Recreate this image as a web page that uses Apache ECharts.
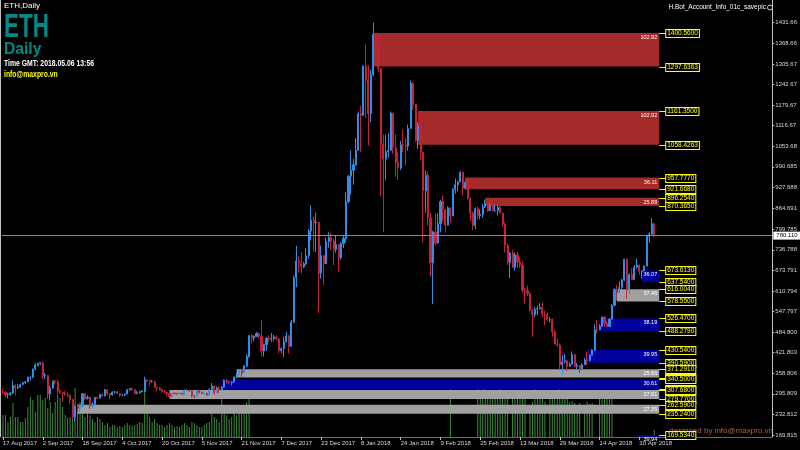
<!DOCTYPE html>
<html><head><meta charset="utf-8">
<script src="https://cdn.jsdelivr.net/npm/echarts@6/dist/echarts.min.js"></script>
<style>html,body{margin:0;padding:0;background:#000;}#c{width:800px;height:450px;}</style>
</head><body><div id="c"></div>
<script>
// ---------- DATA ----------
const firstDay = [2017, 7, 17];      // 17 Aug 2017 (month 0-based)
const totalSlots = 310;              // bar slots on the time axis (incl. empty future space)
const lastBarIndex = 262;            // 6 May 2018

// daily candles: [open, close, low, high]
const candles = [
[302,301,294,312],[301,293,285,303],[293,294,282,299],[294,298,290,302],[298,321,296,337],[321,314,291,325],[314,317,310,326],[317,325,314,327],
[325,330,322,333],[330,333,326,335],[333,347,331,348],[347,347,337,349],[347,372,344,373],[372,383,368,390],[383,388,380,392],[388,391,384,393],
[391,351,340,395],[351,352,342,360],[352,295,280,352],[295,313,275,321],[313,335,313,336],[335,333,325,338],[333,305,295,340],[305,300,296,310],
[300,297,270,300],[297,293,290,305],[293,292,285,300],[292,278,265,293],[278,226,218,281],[226,258,212,260],[258,252,240,266],[252,257,241,261],
[257,296,257,298],[296,282,277,297],[282,285,278,291],[285,259,250,286],[259,263,253,271],[263,285,258,286],[285,282,280,287],[282,294,282,296],
[294,289,287,296],[289,308,288,311],[308,297,291,309],[297,292,279,298],[292,301,291,304],
[301,302,296,304],[302,297,295,304],[297,292,286,298],[292,292,289,295],[292,295,288,297],[295,308,295,311],[308,311,306,314],[311,309,306,315],
[309,297,293,309],[297,299,295,305],[299,303,296,305],[303,303,300,308],[303,338,300,348],[338,337,330,342],[337,334,320,339],[334,334,330,338],
[334,316,313,335],[316,313,304,317],[313,308,305,317],[308,303,300,310],[303,300,297,308],[300,296,288,302],[296,286,282,297],[286,298,285,300],
[298,297,293,300],[297,296,294,299],[296,297,295,301],[297,294,293,300],[294,306,293,309],[306,306,302,309],[306,305,302,308],
[305,290,285,305],[290,288,282,292],[288,306,285,308],[306,300,297,308],[300,297,294,304],[297,297,293,304],[297,292,290,300],[292,309,290,313],
[309,320,308,329],[320,299,293,321],[299,314,298,319],[314,307,298,319],[307,316,307,320],[316,337,315,340],[337,333,327,340],[333,330,325,336],
[330,332,322,335],[332,347,330,349],[347,354,345,360],[354,367,353,371],[367,360,348,372],[360,381,360,384],[381,410,378,417],[410,474,406,475],
[474,466,450,479],[466,471,456,475],[471,480,470,485],[480,472,465,484],[472,427,410,522],[427,447,410,449],
[447,466,428,470],[466,463,455,475],[463,465,455,482],[465,470,457,476],[470,464,460,474],[464,428,420,466],[428,434,420,439],[434,456,408,471],
[456,473,452,485],[473,441,420,476],[441,515,441,522],[515,651,512,657],[651,702,622,749],[702,696,667,717],[696,684,665,730],[684,694,681,700],
[694,719,690,742],[719,794,709,800],[794,827,765,873],[827,819,732,838],[819,821,730,850],[821,665,543,821],[665,719,648,750],[719,694,629,720],
[694,762,694,774],[762,774,743,790],[774,763,735,787],[763,737,690,770],[737,753,728,781],[753,712,670,755],[712,756,707,760],
[756,772,742,782],[772,884,759,914],[884,962,878,965],[962,980,906,1041],[980,997,936,1015],[997,1041,994,1078],[1041,1153,1040,1160],[1153,1148,1037,1177],
[1148,1299,1148,1300],[1299,1255,1140,1365],[1255,1154,1056,1301],[1154,1273,1127,1287],[1273,1396,1268,1432],[1396,1366,1311,1400],[1366,1292,1280,1390],[1292,1061,900,1292],
[1061,1014,790,1090],[1014,1037,950,1090],[1037,1041,1019,1093],[1041,1155,1041,1160],[1155,1050,1030,1155],[1050,1004,960,1090],[1004,987,950,1035],[987,1058,980,1070],
[1058,1057,1035,1105],[1057,1054,995,1080],[1054,1108,1040,1120],[1108,1246,1108,1255],[1246,1182,1165,1250],[1182,1071,1067,1183],[1071,1118,1045,1128],
[1118,1036,1010,1160],[1036,917,760,1036],[917,965,850,980],[965,834,810,976],[834,697,655,850],[697,791,570,795],[791,757,750,850],[757,817,757,848],
[817,884,790,890],[884,861,823,903],[861,812,790,861],[812,865,812,870],[865,840,820,866],[840,921,840,925],[921,936,908,955],[936,944,915,948],
[944,974,944,978],[974,925,903,975],[925,943,920,948],[943,895,890,957],[895,849,825,897],[849,811,797,855],[811,863,800,866],[863,841,830,870],
[841,845,830,860],[845,868,835,877],[868,878,865,890],[878,856,853,885],
[856,872,855,880],[872,857,855,879],[857,857,852,875],[857,866,842,871],[866,849,849,873],[849,815,807,850],[815,751,728,820],[751,698,690,755],
[698,727,650,730],[727,683,681,737],[683,721,673,728],[721,699,681,730],[699,690,681,714],[690,613,605,700],[613,611,572,620],[611,603,595,627],
[603,552,548,606],[552,538,470,557],[538,555,530,562],[555,557,536,566],[557,560,553,574],[560,540,532,575],[540,538,505,550],[538,523,519,545],
[523,523,514,531],[523,486,470,527],[486,448,448,493],[448,445,440,465],[445,385,370,450],[385,394,355,414],[394,397,388,418],
[397,379,365,400],[379,386,378,392],[386,416,386,426],[416,380,376,419],[380,383,372,390],[383,370,360,383],[370,385,369,390],[385,400,385,406],
[400,398,384,425],[398,414,395,416],[414,430,413,432],[430,493,427,508],[493,492,480,522],[492,502,491,509],[502,531,502,532],[531,511,501,533],
[511,502,500,518],[502,524,502,528],[524,567,524,570],[567,615,563,619],[615,606,582,630],[606,621,605,640],[621,644,613,648],[644,708,641,709],
[708,615,587,710],[615,661,601,665],[661,645,644,680],[645,684,645,690],[684,689,679,710],[689,670,660,692],
[670,672,648,674],[672,687,672,688],[687,778,686,783],[778,785,758,790],[785,816,783,834],[816,780,775,820]
];

// tick volume (thousands)
const volumes = [
22,22,15,20,34,20,20,15,15,19,30,40,37,25,42,42,
37,39,29,35,24,35,42,39,30,22,19,20,30,49,25,35,
30,20,25,22,18,15,20,18,15,12,14,10,12,12,10,11,
10,12,14,12,11,12,13,15,14,60,25,20,15,18,14,12,
12,10,12,14,12,10,11,10,12,14,12,10,15,14,12,10,
10,12,14,15,25,20,18,15,40,30,22,18,20,25,22,26,
24,28,35,40,
0,0,0,0,0,0,0,0,0,0,0,0,0,0,0,0,0,0,0,0,
0,0,0,0,0,0,0,0,0,0,0,0,0,0,0,0,0,0,0,0,
0,0,0,0,0,0,0,0,0,0,0,0,0,0,0,0,0,0,0,0,
0,0,0,0,0,0,0,0,0,0,0,0,0,0,0,0,0,0,0,0,
54,
0,0,0,0,0,0,0,0,0,0,
49,47,52,50,47,47,44,45,47,49,44,47,40,0,42,40,42,38,42,40,
0,30,35,52,45,42,40,35,0,38,40,38,47,49,45,42,38,35,36,34,
30,34,0,30,35,33,34,0,0,38,40,41,40,40,38,
0,0,0,0,0,0,0,0,0,0,0,0,0,0,0,0,
7
];

// right price scale tick labels
const yTickLabels = ['1431.66','1368.66','1305.67','1242.67','1179.67','1116.67','1053.68','990.685','927.688','864.691',
  '799.785','736.788','673.791','610.794','547.797','484.800','421.803','358.806','295.809','232.812','169.815'];

// supply / demand zones
const zoneStart  = [149, 167, 186, 194, 257, 247, 240, 235, 94, 88, 67, 30, 255];
const zoneEnd    = 264;
const zoneTop    = [1400.56, 1161.35, 957.777, 896.254, 673.613, 616.004, 526.47, 430.54, 371.291, 340.5, 307.68, 262.59, 169.534];
const zoneBottom = [1297.6363, 1058.4263, 921.668, 870.365, 637.54, 578.55, 488.279, 390.59, 345.631, 309.89, 279.77, 235.24, 129.594];
const zoneSize   = ['102.92','102.92','36.11','25.89','36.07','37.46','38.19','39.95','25.66','30.61','27.91','27.35','39.94'];
const zoneKind   = ['supply','supply','supply','supply','demand','tested','demand','demand','tested','demand','tested','tested','demand'];

const currentPrice = 780.110;

// ---------- BUILD ----------
const monthNames = ['Jan','Feb','Mar','Apr','May','Jun','Jul','Aug','Sep','Oct','Nov','Dec'];
const categories = [];
for (let i = 0; i < totalSlots; i++) {
  const d = new Date(Date.UTC(firstDay[0], firstDay[1], firstDay[2] + i));
  categories.push(d.getUTCDate() + ' ' + monthNames[d.getUTCMonth()] + ' ' + d.getUTCFullYear());
}
const yTickValues = yTickLabels.map(Number);
const zoneColors = { supply: '#a52a2a', demand: '#00009c', tested: '#a0a0a0' };
const zoneData = zoneStart.map((s, i) => [s, zoneEnd, zoneTop[i], zoneBottom[i], i]);

function renderZone(params, api) {
  const s = api.value(0), e = api.value(1), top = api.value(2), bot = api.value(3), k = api.value(4);
  const p1 = api.coord([s, top]);
  const p2 = api.coord([e, bot]);
  const cs = params.coordSys;
  const gBottom = cs.y + cs.height;
  const yb = Math.min(p2[1], gBottom);
  const children = [];
  children.push({ type: 'rect', shape: { x: p1[0], y: p1[1], width: p2[0] - p1[0], height: yb - p1[1] },
    style: { fill: zoneColors[zoneKind[k]] } });
  children.push({ type: 'text', style: { text: zoneSize[k], x: p2[0] - 2, y: p1[1] + 1.5, align: 'right',
    verticalAlign: 'top', fill: '#ffffff', font: '5.5px "Liberation Sans"' } });
  [[top, p1[1]], [bot, p2[1]]].forEach(function (pair) {
    const v = pair[0], y = Math.round(pair[1]) + 0.5;
    if (y > gBottom) return;
    children.push({ type: 'line', shape: { x1: p2[0], y1: y, x2: p2[0] + 7, y2: y },
      style: { stroke: '#ffff00', lineWidth: 1 } });
    children.push({ type: 'text', style: { text: v.toFixed(4), x: p2[0] + 7, y: y, align: 'left', verticalAlign: 'middle',
      fill: '#ffff00', font: '6.5px "Liberation Sans"', backgroundColor: '#000000', borderColor: '#ffff00',
      borderWidth: 1, padding: [0, 1, 0, 1] } });
  });
  return { type: 'group', children: children };
}

const showIdx = (i) => i % 16 === 0 && i <= lastBarIndex;

const chart = echarts.init(document.getElementById('c'), null, { renderer: 'canvas' });
chart.setOption({
  backgroundColor: '#000000',
  animation: false,
  grid: { left: 1, right: 24, top: 0, bottom: 13 },
  xAxis: {
    type: 'category', data: categories, boundaryGap: true,
    axisLine: { show: true, lineStyle: { color: '#3a6fd8', width: 1 } },
    axisTick: { show: true, interval: showIdx, alignWithLabel: true, length: 3, lineStyle: { color: '#c0c0c0' } },
    axisLabel: { interval: showIdx, color: '#d8d8d8', fontSize: 6, fontFamily: 'Liberation Sans', align: 'left', margin: 3 },
    splitLine: { show: false }
  },
  yAxis: [{
    type: 'value', position: 'right', min: 163.7, max: 1501.2,
    axisLine: { show: true, lineStyle: { color: '#c0c0c0' } },
    axisTick: { show: true, length: 2, customValues: yTickValues, lineStyle: { color: '#c0c0c0' } },
    axisLabel: { customValues: yTickValues, color: '#d8d8d8', fontSize: 6, fontFamily: 'Liberation Sans', margin: 3,
      formatter: function (v) { const i = yTickValues.findIndex(t => Math.abs(t - v) < 1e-6); return i >= 0 ? yTickLabels[i] : ''; } },
    splitLine: { show: false }
  }, {
    type: 'value', min: 0, max: 437, show: false
  }],
  series: [
    { type: 'bar', yAxisIndex: 1, data: volumes, barWidth: 1, itemStyle: { color: '#3d8b3d' }, z: 1, silent: true },
    { type: 'custom', renderItem: renderZone, data: zoneData, z: 2, silent: true, clip: false },
    { type: 'candlestick', data: candles, barWidth: 1.6, z: 3, silent: true,
      itemStyle: { color: '#2f8fe6', color0: '#c8203a', borderColor: '#2f8fe6', borderColor0: '#c8203a', borderWidth: 1 },
      markLine: { silent: true, symbol: 'none', data: [{ yAxis: currentPrice }],
        lineStyle: { color: '#8a8a8a', width: 1, type: 'solid' },
        label: { show: true, position: 'end', distance: 1, formatter: currentPrice.toFixed(3), color: '#000', backgroundColor: '#ffffff',
          fontSize: 6, fontFamily: 'Liberation Sans', padding: [1, 3, 1, 3] } } }
  ],
  graphic: [
    { type: 'line', shape: { x1: 0.5, y1: 0, x2: 0.5, y2: 437 }, style: { stroke: '#c0c0c0', lineWidth: 1 }, silent: true },
    { type: 'text', x: 4, y: 2, style: { text: 'ETH,Daily', fill: '#ffffff', font: '8px "Liberation Sans"', verticalAlign: 'top' } },
    { type: 'text', x: 4, y: 11, scaleX: 0.68, style: { text: 'ETH', fill: '#008b8b', font: 'bold 33px "Liberation Sans"', verticalAlign: 'top' } },
    { type: 'text', x: 4, y: 41, scaleX: 0.92, style: { text: 'Daily', fill: '#008b8b', font: 'bold 17px "Liberation Sans"', verticalAlign: 'top' } },
    { type: 'text', x: 4, y: 59, scaleX: 0.76, style: { text: 'Time GMT: 2018.05.06 13:56', fill: '#ffffff', font: 'bold 9px "Liberation Sans"', verticalAlign: 'top' } },
    { type: 'text', x: 4, y: 70, scaleX: 0.76, style: { text: 'info@maxpro.vn', fill: '#ffff00', font: 'bold 9px "Liberation Sans"', verticalAlign: 'top' } },
    { type: 'text', x: 766, y: 4, style: { text: 'H.Bot_Account_Info_01c_savepic', fill: '#ffffff', font: '6.5px "Liberation Sans"', align: 'right', verticalAlign: 'top' } },
    { type: 'circle', shape: { cx: 770, cy: 7.5, r: 2.5 }, style: { fill: 'none', stroke: '#ffffff', lineWidth: 0.8 } },
    { type: 'text', x: 773, y: 427, style: { text: 'designed by info@maxpro.vn', fill: '#b0603a', font: '8px "Liberation Sans"', align: 'right', verticalAlign: 'top' } }
  ]
});
</script></body></html>
